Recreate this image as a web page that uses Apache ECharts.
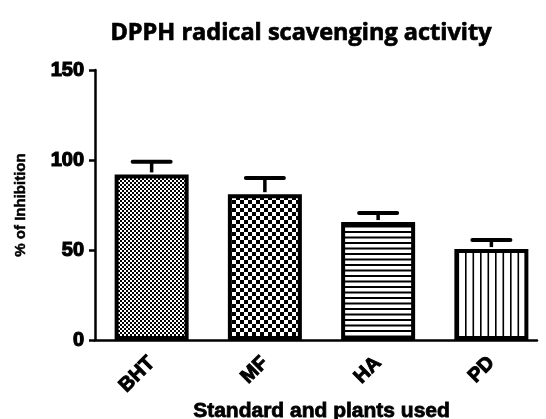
<!DOCTYPE html>
<html>
<head>
<meta charset="utf-8">
<script src="https://cdn.jsdelivr.net/npm/echarts@6/dist/echarts.min.js"></script>
<style>
    html, body { margin: 0; padding: 0; background: #fff; }
    #chart { width: 546px; height: 419px; }
</style>
</head>
<body>
<div id="chart"></div>
<script>
// 数据
var categories = ['BHT', 'MF', 'HA', 'PD'];
var inhibition = [92, 81, 65.5, 50.5];
var sem = [7, 9, 5, 5];
var yTicks = [0, 50, 100, 150];

// 填充图案
function makePattern(w, h, draw) {
    var c = document.createElement('canvas');
    c.width = w;
    c.height = h;
    var ctx = c.getContext('2d');
    ctx.fillStyle = '#fff';
    ctx.fillRect(0, 0, w, h);
    ctx.fillStyle = '#000';
    draw(ctx);
    return { image: c, repeat: 'repeat' };
}

var patterns = [
    // 细棋盘
    makePattern(4, 4, function (ctx) {
        ctx.fillRect(0, 0, 2, 2);
        ctx.fillRect(2, 2, 2, 2);
    }),
    // 粗棋盘
    makePattern(8, 8, function (ctx) {
        ctx.fillRect(0, 0, 4, 4);
        ctx.fillRect(4, 4, 4, 4);
    }),
    // 横线
    makePattern(4, 11, function (ctx) {
        ctx.fillRect(0, 0, 4, 2);
        ctx.fillRect(0, 5.5, 4, 2);
    }),
    // 竖线
    makePattern(15, 4, function (ctx) {
        ctx.fillRect(0, 0, 1.6, 4);
        ctx.fillRect(7.5, 0, 1.6, 4);
    })
];

var boldFont = '"Liberation Sans", Arial, sans-serif';

var chart = echarts.init(document.getElementById('chart'));

var option = {
    animation: false,
    backgroundColor: '#fff',
    title: {
        text: 'DPPH radical scavenging activity',
        left: 296,
        top: 16,
        textAlign: 'center',
        textStyle: {
            fontFamily: '"Open Sans", sans-serif',
            fontWeight: 'bold',
            fontSize: 23.5,
            color: '#000',
            textBorderColor: '#000',
            textBorderWidth: 0.7
        }
    },
    grid: [
        { left: 95, top: 70, right: -2, bottom: 79, outerBoundsMode: 'none', containLabel: false },
        { left: 95, top: 70, right: 9, bottom: 79, outerBoundsMode: 'none', containLabel: false }
    ],
    xAxis: [{
        type: 'category',
        gridIndex: 0,
        data: categories,
        name: 'Standard and plants used',
        nameLocation: 'middle',
        nameGap: 61,
        nameMoveOverlap: false,
        nameTextStyle: {
            fontFamily: boldFont,
            fontWeight: 900,
            fontSize: 21,
            color: '#000',
            textBorderColor: '#000',
            textBorderWidth: 0.8
        },
        axisLine: { show: false },
        axisTick: {
            alignWithLabel: true,
            length: 6,
            lineStyle: { color: '#000', width: 2.5 }
        },
        axisLabel: {
            rotate: 45,
            margin: 20,
            fontFamily: boldFont,
            fontWeight: 900,
            fontSize: 20,
            color: '#000',
            textBorderColor: '#000',
            textBorderWidth: 1
        },
        splitLine: { show: false }
    }, {
        // 只画x轴线
        type: 'value',
        gridIndex: 1,
        min: 0,
        max: 1,
        axisLine: { show: true, lineStyle: { color: '#000', width: 2.5 } },
        axisTick: { show: false },
        axisLabel: { show: false },
        splitLine: { show: false }
    }],
    yAxis: [{
        type: 'value',
        gridIndex: 0,
        min: yTicks[0],
        max: yTicks[yTicks.length - 1],
        interval: 50,
        name: '% of Inhibition',
        nameLocation: 'middle',
        nameGap: 67,
        nameMoveOverlap: false,
        nameTextStyle: {
            fontFamily: boldFont,
            fontWeight: 900,
            fontSize: 15,
            color: '#000',
            textBorderColor: '#000',
            textBorderWidth: 0.5
        },
        axisLine: { show: true, lineStyle: { color: '#000', width: 2.5 } },
        axisTick: { show: true, length: 6, lineStyle: { color: '#000', width: 2.5 } },
        axisLabel: {
            margin: 11,
            fontFamily: boldFont,
            fontWeight: 900,
            fontSize: 20,
            color: '#000',
            textBorderColor: '#000',
            textBorderWidth: 1.2
        },
        splitLine: { show: false }
    }, {
        type: 'value',
        gridIndex: 1,
        show: false
    }],
    series: [{
        type: 'bar',
        xAxisIndex: 0,
        yAxisIndex: 0,
        barWidth: 74,
        data: inhibition.map(function (v, i) {
            return {
                value: v,
                itemStyle: {
                    color: patterns[i],
                    borderColor: '#000',
                    borderWidth: 4
                }
            };
        }),
        z: 2
    }, {
        // 误差线
        type: 'custom',
        xAxisIndex: 0,
        yAxisIndex: 0,
        data: inhibition.map(function (v, i) {
            return [i, v, v + sem[i]];
        }),
        renderItem: function (params, api) {
            var base = api.coord([api.value(0), api.value(1)]);
            var top = api.coord([api.value(0), api.value(2)]);
            var half = 19;
            var style = { stroke: '#000', lineWidth: 4, lineCap: 'round' };
            return {
                type: 'group',
                children: [{
                    type: 'line',
                    shape: { x1: base[0], y1: base[1] - 2, x2: top[0], y2: top[1] },
                    style: { stroke: '#000', lineWidth: 3.5 }
                }, {
                    type: 'line',
                    shape: { x1: top[0] - half, y1: top[1], x2: top[0] + half, y2: top[1] },
                    style: style
                }]
            };
        },
        z: 3
    }]
};

chart.setOption(option);
</script>
</body>
</html>
